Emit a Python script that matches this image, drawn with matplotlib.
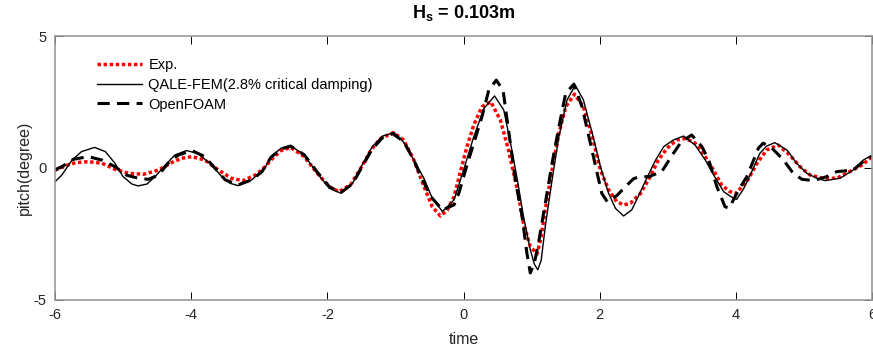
import matplotlib
matplotlib.use('Agg')
import matplotlib.pyplot as plt

plt.rcParams['font.family'] = ['Liberation Sans', 'DejaVu Sans']
plt.rcParams['mathtext.fontset'] = 'custom'
plt.rcParams['mathtext.rm'] = 'Liberation Sans'
plt.rcParams['mathtext.bf'] = 'Liberation Sans:bold'
plt.rcParams['axes.unicode_minus'] = False

# ---- data (time, pitch in degree) ----
exp_pts = [(-6.0, -0.08), (-5.85, 0.08), (-5.70, 0.20), (-5.51, 0.24), (-5.31, 0.18),
           (-5.12, -0.05), (-4.92, -0.20), (-4.70, -0.24), (-4.48, -0.08), (-4.29, 0.20),
           (-4.14, 0.37), (-3.99, 0.43), (-3.80, 0.30), (-3.60, -0.08), (-3.41, -0.39),
           (-3.24, -0.48), (-3.06, -0.27), (-2.95, -0.05), (-2.83, 0.30), (-2.68, 0.66),
           (-2.54, 0.78), (-2.34, 0.43), (-2.15, -0.20), (-1.97, -0.71), (-1.83, -0.90),
           (-1.66, -0.64), (-1.51, -0.01), (-1.36, 0.68), (-1.22, 1.12), (-1.03, 1.34),
           (-0.88, 1.06), (-0.73, 0.30), (-0.58, -0.71), (-0.46, -1.47), (-0.34, -1.82),
           (-0.24, -1.60), (-0.14, -1.09), (-0.04, -0.08), (0.05, 0.81), (0.15, 1.63),
           (0.27, 2.32), (0.40, 2.51), (0.54, 1.82), (0.66, 0.68), (0.79, -0.83),
           (0.88, -2.10), (0.98, -2.98), (1.08, -3.26), (1.14, -2.60), (1.20, -1.59),
           (1.30, -0.08), (1.40, 1.31), (1.50, 2.32), (1.63, 2.80), (1.76, 2.32),
           (1.89, 1.19), (2.01, -0.08), (2.13, -0.83), (2.25, -1.28), (2.35, -1.40),
           (2.45, -1.34), (2.60, -0.96), (2.74, -0.33), (2.86, 0.30), (2.99, 0.75),
           (3.13, 1.06), (3.26, 1.12), (3.40, 0.94), (3.52, 0.55), (3.67, -0.08),
           (3.79, -0.64), (3.90, -0.88), (3.99, -0.98), (4.16, -0.52), (4.31, 0.18),
           (4.45, 0.68), (4.62, 0.87), (4.79, 0.49), (4.94, 0.05), (5.09, -0.27),
           (5.28, -0.39), (5.48, -0.39), (5.67, -0.14), (5.85, 0.11), (6.0, 0.43)]

qale_pts = [(-6.0, -0.52), (-5.9, -0.27), (-5.75, 0.30), (-5.61, 0.62), (-5.42, 0.78),
            (-5.26, 0.62), (-5.12, 0.18), (-5.0, -0.33), (-4.87, -0.61), (-4.78, -0.68),
            (-4.65, -0.61), (-4.53, -0.33), (-4.38, 0.11), (-4.24, 0.49), (-4.07, 0.66),
            (-3.90, 0.55), (-3.70, 0.11), (-3.55, -0.33), (-3.43, -0.58), (-3.31, -0.67),
            (-3.11, -0.45), (-2.92, -0.01), (-2.83, 0.43), (-2.68, 0.75), (-2.54, 0.85),
            (-2.34, 0.49), (-2.15, -0.20), (-1.97, -0.77), (-1.80, -0.96), (-1.63, -0.58),
            (-1.49, 0.11), (-1.34, 0.81), (-1.19, 1.21), (-1.02, 1.34), (-0.88, 0.98),
            (-0.73, 0.30), (-0.58, -0.40), (-0.46, -1.15), (-0.31, -1.65), (-0.14, -1.21),
            (0.0, -0.08), (0.15, 1.19), (0.30, 2.26), (0.455, 2.73), (0.59, 2.20),
            (0.69, 0.94), (0.79, -0.45), (0.88, -1.84), (0.98, -3.10), (1.04, -3.65),
            (1.09, -3.86), (1.14, -3.50), (1.20, -2.22), (1.30, -0.45), (1.40, 1.19),
            (1.52, 2.58), (1.64, 3.14), (1.76, 2.58), (1.89, 1.31), (2.01, 0.05),
            (2.13, -0.96), (2.23, -1.53), (2.35, -1.82), (2.47, -1.59), (2.58, -1.00),
            (2.69, -0.39), (2.82, 0.30), (2.94, 0.81), (3.08, 1.06), (3.23, 1.21),
            (3.40, 0.87), (3.55, 0.30), (3.70, -0.39), (3.82, -0.90), (3.94, -1.11),
            (4.01, -1.19), (4.11, -0.80), (4.21, -0.27), (4.35, 0.55), (4.45, 0.83),
            (4.57, 0.96), (4.75, 0.68), (4.89, 0.18), (5.04, -0.20), (5.19, -0.39),
            (5.31, -0.48), (5.53, -0.39), (5.72, -0.08), (5.87, 0.30), (6.0, 0.49)]

foam_pts = [(-6.0, -0.08), (-5.88, 0.08), (-5.73, 0.33), (-5.51, 0.43), (-5.31, 0.30),
            (-5.12, 0.05), (-4.95, -0.27), (-4.78, -0.39), (-4.63, -0.43), (-4.48, -0.27),
            (-4.34, 0.18), (-4.19, 0.49), (-3.99, 0.66), (-3.80, 0.43), (-3.65, -0.01),
            (-3.50, -0.45), (-3.31, -0.64), (-3.11, -0.45), (-2.96, -0.14), (-2.83, 0.40),
            (-2.68, 0.72), (-2.54, 0.83), (-2.34, 0.50), (-2.15, -0.15), (-1.97, -0.72),
            (-1.80, -0.93), (-1.63, -0.60), (-1.49, 0.05), (-1.34, 0.72), (-1.19, 1.15),
            (-1.04, 1.30), (-0.88, 1.00), (-0.73, 0.30), (-0.63, -0.30), (-0.48, -1.09),
            (-0.31, -1.59), (-0.14, -1.40), (-0.07, -0.96), (0.05, 0.11), (0.15, 0.94),
            (0.27, 1.94), (0.37, 2.95), (0.48, 3.33), (0.58, 2.95), (0.66, 1.44),
            (0.76, -0.45), (0.86, -1.84), (0.93, -3.23), (0.98, -3.98), (1.04, -3.60),
            (1.10, -2.85), (1.20, -1.34), (1.30, 0.18), (1.40, 1.56), (1.50, 2.83),
            (1.62, 3.18), (1.74, 2.32), (1.84, 1.19), (1.94, 0.05), (2.03, -0.96),
            (2.11, -1.28), (2.25, -1.05), (2.38, -0.70), (2.50, -0.40), (2.60, -0.33),
            (2.72, -0.33), (2.91, -0.14), (3.08, 0.55), (3.20, 1.00), (3.35, 1.25),
            (3.50, 0.81), (3.60, 0.30), (3.72, -0.71), (3.84, -1.47), (3.90, -1.52),
            (4.04, -0.83), (4.16, -0.33), (4.26, 0.30), (4.33, 0.75), (4.40, 0.94),
            (4.53, 0.75), (4.70, 0.30), (4.84, -0.20), (4.97, -0.43), (5.14, -0.48),
            (5.33, -0.33), (5.48, -0.14), (5.72, -0.08), (5.87, 0.24), (6.0, 0.43)]

labels = ['Exp.', 'QALE-FEM(2.8% critical damping)', 'OpenFOAM']
xticks = [-6, -4, -2, 0, 2, 4, 6]
yticks = [-5, 0, 5]

fig = plt.figure(figsize=(8.73, 3.54), dpi=100)
ax = fig.add_axes([0.063, 0.153, 0.936, 0.745])

t, v = zip(*exp_pts)
ax.plot(t, v, color='red', lw=2.5, linestyle=(0, (1, 0.75)), dash_capstyle='butt', label=labels[0])
t, v = zip(*qale_pts)
ax.plot(t, v, color='black', lw=1.0, label=labels[1])
t, v = zip(*foam_pts)
ax.plot(t, v, color='black', lw=2.2, linestyle=(0, (4.0, 2.4)), label=labels[2])

ax.set_xlim(-6, 6)
ax.set_ylim(-5, 5)
ax.set_xticks(xticks)
ax.set_yticks(yticks)
ax.tick_params(direction='in', length=6, width=0.7, top=True, right=True,
               labelsize=10.5, colors='black', labelcolor='#262626', pad=6)
for s in ax.spines.values():
    s.set_color('#9a9a9a')
    s.set_linewidth(1.2)

ax.set_xlabel('time', fontsize=11.5, color='#262626', labelpad=7)
ax.set_ylabel('pitch(degree)', fontsize=11.5, color='#262626', labelpad=1)
ax.set_title(r'$\mathbf{H_s}$ = 0.103m', fontsize=13, fontweight='bold', pad=13)

ax.legend(loc='upper left', bbox_to_anchor=(0.035, 0.965), frameon=False,
          prop={'family': 'Liberation Sans', 'size': 10.5},
          handlelength=3.1, handletextpad=0.45, labelspacing=0.38)

plt.savefig('out.png', dpi=100)
